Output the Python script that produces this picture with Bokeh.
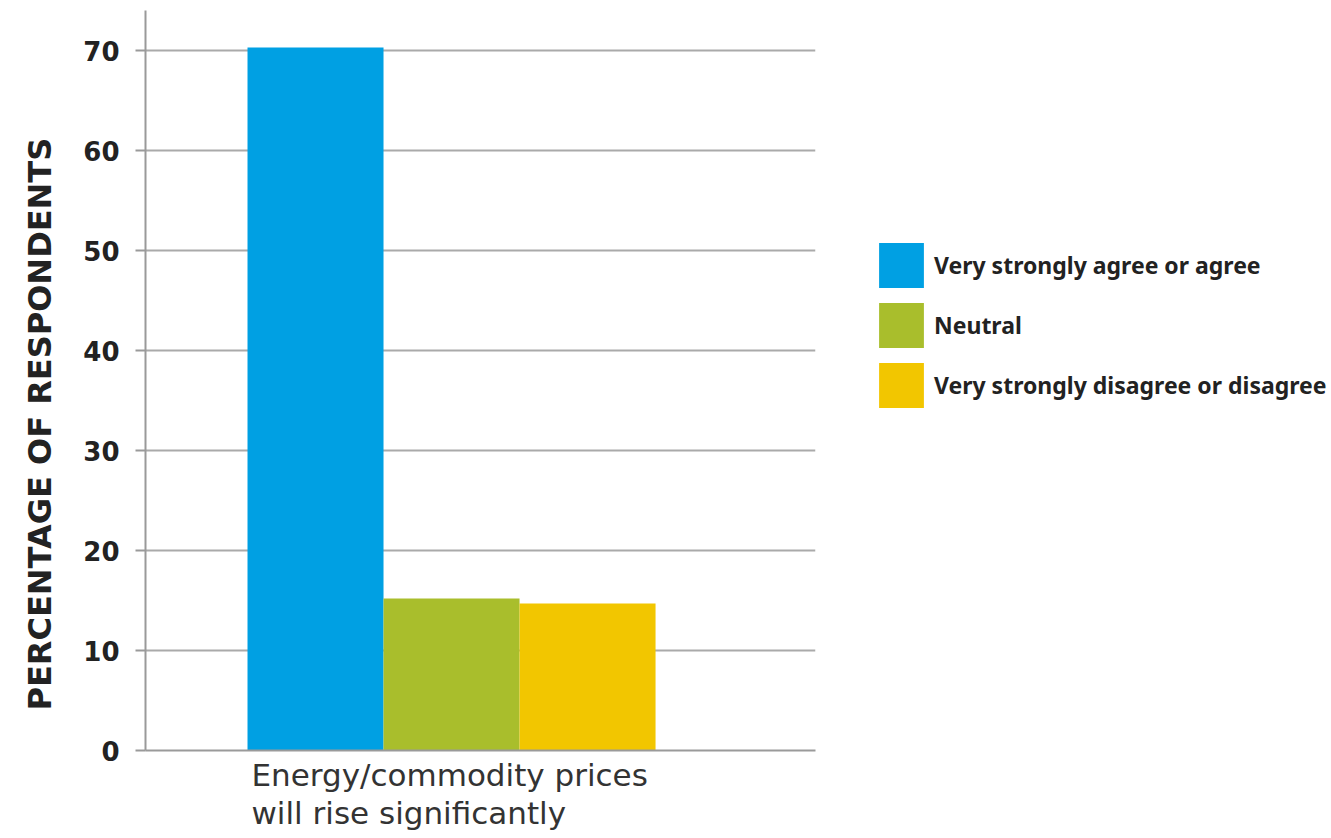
from bokeh.plotting import figure
from bokeh.models import Range1d, FixedTicker, Legend, LegendItem, Title
from bokeh.embed import file_html
from bokeh.resources import INLINE

categories = ["Energy/commodity prices\nwill rise significantly"]
series = ["Very strongly agree or agree", "Neutral", "Very strongly disagree or disagree"]
values = [70.3, 15.2, 14.7]
colors = ["#00A0E3", "#A9BE2C", "#F2C600"]
positions = [0, 1, 2]
y_ticks = [0, 10, 20, 30, 40, 50, 60, 70]
y_title = "PERCENTAGE OF RESPONDENTS"

p = figure(frame_width=670, frame_height=740, output_backend="svg", toolbar_location=None,
           x_range=Range1d(-1.25, 3.676), y_range=Range1d(0, 74),
           min_border_left=145, min_border_right=505, min_border_top=10, min_border_bottom=88)
p.outline_line_color = None
p.background_fill_color = "white"

renderers = []
for pos, v, c in zip(positions, values, colors):
    r = p.vbar(x=[pos], top=[v], width=1.0, bottom=0, fill_color=c, line_color=None)
    renderers.append(r)

# y axis
p.yaxis.ticker = FixedTicker(ticks=y_ticks)
p.yaxis.axis_line_color = "#9a9a9a"
p.yaxis.axis_line_width = 2
p.yaxis.major_tick_line_color = "#9a9a9a"
p.yaxis.major_tick_line_width = 2
p.yaxis.major_tick_out = 10
p.yaxis.major_tick_in = 0
p.yaxis.minor_tick_line_color = None
p.yaxis.major_label_standoff = 16
p.yaxis.major_label_text_font = "DejaVu Sans"
p.yaxis.major_label_text_font_style = "bold"
p.yaxis.major_label_text_font_size = "26px"
p.yaxis.major_label_text_color = "#222222"

# x axis: line only, category name written below, left-aligned with the first bar
p.xaxis.ticker = FixedTicker(ticks=[])
p.xaxis.axis_line_color = "#9a9a9a"
p.xaxis.axis_line_width = 2
p.xaxis.major_tick_line_color = None
p.xaxis.minor_tick_line_color = None
p.xaxis.major_tick_out = 0
p.xaxis.major_label_standoff = 0

p.add_layout(Title(text=categories[0], align="left", offset=106, standoff=8,
                   text_font="DejaVu Sans", text_font_style="normal", text_font_size="31px",
                   text_color="#333333", text_line_height=1.08), "below")

p.xgrid.grid_line_color = None
p.ygrid.ticker = FixedTicker(ticks=y_ticks)
p.ygrid.grid_line_color = "#aaaaaa"
p.ygrid.grid_line_width = 2

# y title
p.add_layout(Title(text=y_title, align="left", offset=40, standoff=40, vertical_align="top",
                   text_font="DejaVu Sans", text_font_style="bold", text_font_size="32px",
                   text_color="#222222"), "left")

legend = Legend(items=[LegendItem(label=s, renderers=[r]) for s, r in zip(series, renderers)],
                location=(58, 337), orientation="vertical",
                glyph_width=56, glyph_height=56, spacing=4, padding=0, margin=0,
                label_standoff=5, label_text_font="Noto Sans", label_text_font_style="bold",
                label_text_font_size="23px", label_text_color="#222222",
                border_line_color=None, background_fill_alpha=0)
p.add_layout(legend, "right")

open("out.html", "w").write(file_html(p, INLINE))
